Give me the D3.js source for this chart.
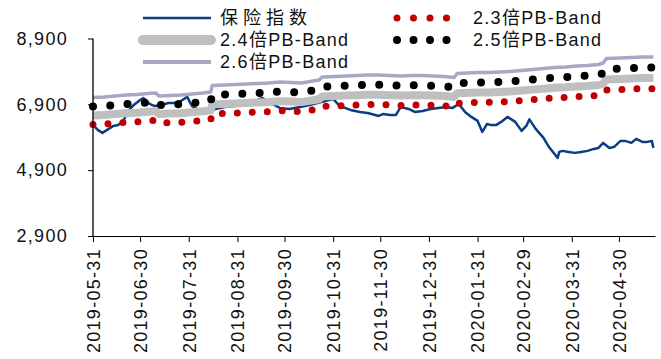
<html>
  <head>
    <meta charset="utf-8">
    <script src="https://cdnjs.cloudflare.com/ajax/libs/d3/7.8.5/d3.min.js"></script>
    <style>
      body { margin: 0px; background: #fff; }
      text {
        font-family: "Liberation Sans", Arial, "Noto Sans CJK SC", sans-serif;
        font-size: 18px;
        fill: #111;
        letter-spacing: 1.3px;
      }
      .axis path, .axis line { stroke: #000; }
    </style>
  </head>
  <body>
    <svg width="661" height="359"></svg>
    <script>
      // 保险指数
      var idxDates = ['2019-05-31','2019-06-03','2019-06-06','2019-06-10','2019-06-13','2019-06-16','2019-06-19','2019-06-22','2019-06-26','2019-06-30',
        '2019-07-02','2019-07-06','2019-07-09','2019-07-14','2019-07-18','2019-07-22','2019-07-26','2019-07-30','2019-08-02','2019-08-06',
        '2019-08-11','2019-08-17','2019-08-23','2019-08-29','2019-09-05','2019-09-11','2019-09-16','2019-09-21','2019-09-27','2019-10-03',
        '2019-10-10','2019-10-16','2019-10-21','2019-10-26','2019-10-31','2019-11-04','2019-11-11','2019-11-17','2019-11-22','2019-11-29',
        '2019-12-02','2019-12-06','2019-12-10','2019-12-13','2019-12-18','2019-12-22','2019-12-27','2020-01-01','2020-01-06','2020-01-11',
        '2020-01-15','2020-01-19','2020-01-23','2020-01-27','2020-01-31','2020-02-03','2020-02-06','2020-02-08','2020-02-12','2020-02-15',
        '2020-02-19','2020-02-24','2020-02-28','2020-03-02','2020-03-04','2020-03-08','2020-03-13','2020-03-16','2020-03-19','2020-03-22',
        '2020-03-23','2020-03-25','2020-03-29','2020-04-02','2020-04-06','2020-04-10','2020-04-14','2020-04-17','2020-04-20','2020-04-24',
        '2020-04-27','2020-05-01','2020-05-04','2020-05-08','2020-05-11','2020-05-15','2020-05-18','2020-05-21','2020-05-22'];
      var idxValues = [6275,6123,6032,6153,6244,6275,6366,6669,6882,7033,
        7094,6912,6851,6882,6942,6942,7003,7125,6851,6730,
        6700,6760,6821,6851,6912,7003,7094,6942,6791,6760,
        6821,6882,6942,7003,7064,6851,6730,6669,6639,6548,
        6609,6579,6579,6821,6760,6669,6700,6760,6791,6821,
        6791,6912,6669,6518,6396,6062,6305,6275,6275,6366,
        6518,6366,6093,6244,6442,6153,5880,5637,5455,5273,
        5455,5486,5455,5425,5455,5486,5546,5576,5728,5576,
        5607,5789,5789,5728,5850,5759,5759,5789,5577];

      // PB-Band lines
      var bandDates = ['2019-05-31','2019-06-07','2019-06-14','2019-06-21','2019-06-28','2019-07-05','2019-07-10','2019-07-12','2019-07-19','2019-07-26',
        '2019-08-02','2019-08-09','2019-08-14','2019-08-15','2019-08-23','2019-08-30','2019-09-06','2019-09-13','2019-09-20','2019-09-27',
        '2019-10-04','2019-10-11','2019-10-18','2019-10-22','2019-10-24','2019-11-01','2019-11-08','2019-11-15','2019-11-22','2019-11-29',
        '2019-12-06','2019-12-13','2019-12-20','2019-12-27','2020-01-03','2020-01-10','2020-01-16','2020-01-18','2020-01-31','2020-02-07',
        '2020-02-14','2020-02-21','2020-02-28','2020-03-06','2020-03-13','2020-03-20','2020-03-27','2020-04-03','2020-04-10','2020-04-17',
        '2020-04-20','2020-04-22','2020-05-01','2020-05-08','2020-05-15','2020-05-22'];
      var band23 = [6289,6303,6329,6356,6369,6397,6410,6329,6343,6356,6383,6410,6436,6612,6625,6638,6651,6665,6678,6705,
        6692,6678,6732,6759,6840,6853,6866,6880,6893,6893,6880,6866,6880,6880,6866,6853,6826,6934,6960,6960,
        6973,6987,7014,7041,7067,7095,7108,7134,7149,7175,7215,7336,7349,7363,7377,7377];
      var band24 = [6562,6577,6605,6632,6646,6675,6689,6605,6618,6632,6661,6689,6716,6899,6913,6927,6941,6955,6968,6997,
        6983,6968,7025,7052,7137,7151,7165,7179,7193,7193,7179,7165,7179,7179,7165,7151,7122,7235,7263,7263,
        7277,7290,7319,7347,7374,7403,7417,7445,7459,7487,7529,7655,7669,7683,7698,7698];
      var band25 = [6836,6851,6880,6909,6923,6953,6967,6880,6894,6909,6938,6967,6996,7187,7201,7215,7230,7244,7259,7288,
        7274,7259,7317,7346,7435,7449,7463,7478,7492,7492,7478,7463,7478,7478,7463,7449,7419,7537,7565,7565,
        7580,7594,7624,7653,7682,7712,7726,7755,7770,7799,7842,7974,7988,8003,8018,8018];
      var band26 = [7109,7125,7155,7185,7200,7231,7246,7155,7170,7185,7216,7246,7276,7474,7489,7504,7519,7534,7549,7580,
        7565,7549,7610,7640,7732,7747,7762,7777,7792,7792,7777,7762,7777,7777,7762,7747,7716,7838,7868,7868,
        7883,7898,7929,7959,7989,8020,8035,8065,8081,8111,8156,8293,8308,8323,8339,8339];

      var tickDates = ['2019-05-31','2019-06-30','2019-07-31','2019-08-31','2019-09-30','2019-10-31',
        '2019-11-30','2019-12-31','2020-01-31','2020-02-29','2020-03-31','2020-04-30'];
      var yTicks = [2900, 4900, 6900, 8900];

      var parse = d3.timeParse('%Y-%m-%d');
      var svg = d3.select('svg');

      var xScale = d3.scaleTime()
        .domain([parse('2019-05-31'), parse('2020-05-23')])
        .range([93, 655]);
      var yScale = d3.scaleLinear()
        .domain([2900, 8900])
        .range([236, 38.5]);

      // series styles, in draw order
      var series = [
        { name: '保险指数', dates: idxDates, values: idxValues, color: '#0b3d82', width: 2.5, dash: null },
        { name: '2.3倍PB-Band', dates: bandDates, values: band23, color: '#c00000', width: 7, dash: '0 15' },
        { name: '2.4倍PB-Band', dates: bandDates, values: band24, color: '#bfbfbf', width: 8, dash: null },
        { name: '2.5倍PB-Band', dates: bandDates, values: band25, color: '#000000', width: 8, dash: '0 17.3' },
        { name: '2.6倍PB-Band', dates: bandDates, values: band26, color: '#a5a9c2', width: 3.5, dash: null }
      ];

      var line = d3.line()
        .x(d => xScale(d[0]))
        .y(d => yScale(d[1]));

      svg.append('g').selectAll('path')
        .data(series)
        .enter().append('path')
          .attr('fill', 'none')
          .attr('stroke', d => d.color)
          .attr('stroke-width', d => d.width)
          .attr('stroke-linecap', d => d.dash ? 'round' : 'butt')
          .attr('stroke-linejoin', 'round')
          .attr('stroke-dasharray', d => d.dash)
          .attr('d', d => line(d.dates.map((s, i) => [parse(s), d.values[i]])));

      // axes
      var yAxis = d3.axisLeft(yScale)
        .tickValues(yTicks)
        .tickFormat(d3.format(','))
        .tickSize(5)
        .tickPadding(20);
      svg.append('g')
        .attr('class', 'axis')
        .attr('transform', 'translate(93,0)')
        .call(yAxis)
        .call(g => g.select('.domain').attr('d', 'M0,38.5V236').attr('stroke-width', 1.3))
        .selectAll('text')
          .style('font-size', '18px')
          .attr('font-family', null);

      var xAxis = d3.axisBottom(xScale)
        .tickValues(tickDates.map(parse))
        .tickFormat(d3.timeFormat('%Y-%m-%d'))
        .tickSize(6)
        .tickSizeOuter(0);
      svg.append('g')
        .attr('class', 'axis')
        .attr('transform', 'translate(0,236)')
        .call(xAxis)
        .selectAll('text')
          .attr('font-family', null)
          .style('font-size', '18px')
          .attr('text-anchor', 'end')
          .attr('transform', 'rotate(-90)')
          .attr('x', -12)
          .attr('y', 0)
          .attr('dy', '0.35em');

      svg.selectAll('.axis .tick text').attr('fill', '#111');

      // legend: rows filled left to right
      var legendPos = [[145, 18], [397, 18], [145, 40], [397, 40], [145, 62]];
      var legend = svg.append('g').selectAll('g')
        .data(series)
        .enter().append('g')
          .attr('transform', (d, i) => 'translate(' + legendPos[i][0] + ',' + legendPos[i][1] + ')');
      legend.append('line')
        .attr('x1', (d, i) => i % 2 ? 0 : -2)
        .attr('x2', 66)
        .attr('stroke', d => d.color)
        .attr('stroke-width', (d, i) => i === 2 ? 10 : (i === 4 ? 4 : d.width))
        .attr('stroke-linecap', (d, i) => d.dash || i === 2 ? 'round' : 'butt')
        .attr('stroke-dasharray', d => d.dash ? '0 16.5' : null);
      legend.append('text')
        .attr('x', (d, i) => i % 2 ? 76 : 75)
        .attr('dy', '0.36em')
        .style('letter-spacing', (d, i) => i === 0 ? '5px' : null)
        .text(d => d.name);
    </script>
  </body>
</html>
